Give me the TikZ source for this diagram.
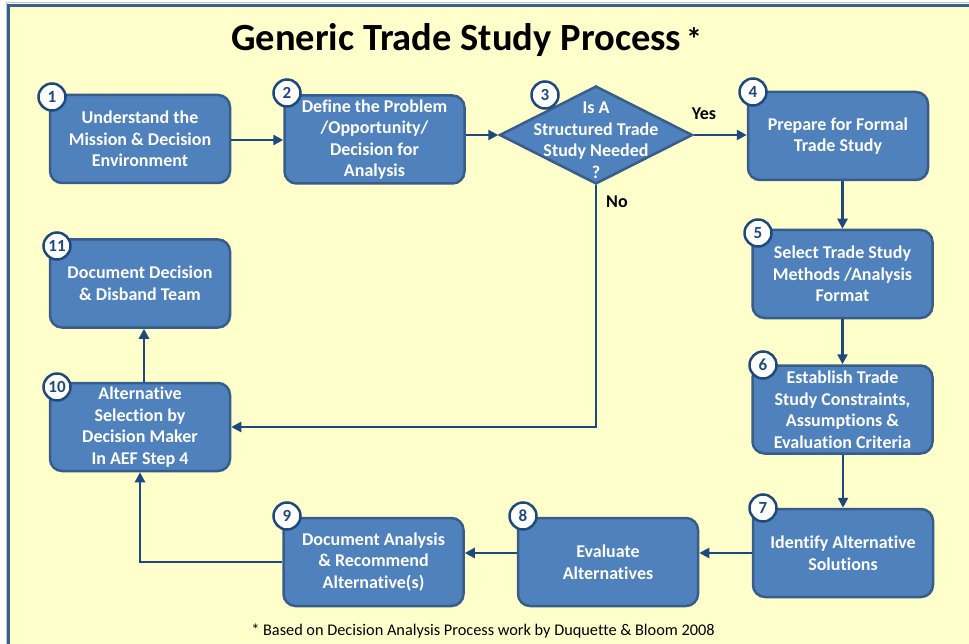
\documentclass[tikz,border=0pt]{standalone}
\usepackage{fontspec}
\setmainfont[Ligatures=NoCommon]{Carlito}
\usepackage{xcolor}
\usetikzlibrary{arrows.meta,shapes.geometric}

\definecolor{boxfill}{HTML}{4F81BD}
\definecolor{boxline}{HTML}{385D8A}
\definecolor{flowblue}{HTML}{1F497D}
\definecolor{paper}{HTML}{FFFFCC}
\definecolor{frameblue}{HTML}{3A5F8B}

\begin{document}
\begin{tikzpicture}[x=1pt,y=-1pt,
    stepbox/.style={draw=boxline,fill=boxfill,line width=2.5pt,rounded corners=12pt,
        minimum width=180pt,minimum height=88pt,inner sep=2pt,align=center,
        text=white,font=\bfseries\fontsize{18}{21.5}\selectfont},
    numcirc/.style={circle,draw=flowblue,fill=white,line width=2.5pt,minimum size=27pt,
        inner sep=0pt,text=flowblue,font=\bfseries\fontsize{17}{18}\selectfont},
    flow/.style={draw=flowblue,line width=2.5pt,-{Triangle[length=10pt,width=10pt]}},
    answer/.style={font=\bfseries\fontsize{18}{20}\selectfont}]

    \useasboundingbox (0,0) rectangle (969,644);
    \clip (0,0) rectangle (969,644);
    \fill[white] (0,0) rectangle (969,644);
    \draw[frameblue!35,line width=1pt] (6,3) rectangle (990,670);
    \draw[frameblue,fill=paper,line width=3pt] (8.5,6) rectangle (990,670);

    \node[anchor=west,inner sep=0pt,font=\bfseries\fontsize{38.5}{42}\selectfont] (title) at (231,40)
        {Generic Trade Study Process\kern5pt{\fontsize{32}{32}\selectfont*}};

    % steps
    \node[stepbox] (b1) at (140,139) {Understand the\\Mission \& Decision\\Environment};
    \node[stepbox] (b2) at (374.5,139.5) {Define the Problem\\/Opportunity/\\Decision for\\Analysis};
    \node[diamond,draw=boxline,fill=boxfill,line width=2.5pt,inner sep=0pt,
        minimum width=193pt,minimum height=98pt] (d3) at (596,135) {};
    \node[align=center,text=white,font=\bfseries\fontsize{18}{21.5}\selectfont] (t3) at (596,140)
        {Is A\\Structured Trade\\Study Needed\\?};
    \node[stepbox] (b4) at (838,136) {Prepare for Formal\\Trade Study};
    \node[stepbox] (b5) at (842.5,274) {Select Trade Study\\Methods /Analysis\\Format};
    \node[stepbox] (b6) at (842.5,409.5) {Establish Trade\\Study Constraints,\\Assumptions \&\\Evaluation Criteria};
    \node[stepbox] (b7) at (843,553) {Identify Alternative\\Solutions};
    \node[stepbox] (b8) at (608,562) {Evaluate\\Alternatives};
    \node[stepbox] (b9) at (373.5,562) {Document Analysis\\\& Recommend\\Alternative(s)};
    \node[stepbox] (b10) at (140,427) {Alternative\\Selection by\\Decision Maker\\In AEF Step 4};
    \node[stepbox] (b11) at (140,283.5) {Document Decision\\\& Disband Team};

    % connectors
    \draw[flow] (b1.east |- 0,140) -- (b2.west |- 0,140);
    \draw[flow] (b2.east |- d3.west) -- (d3.west);
    \draw[flow] (d3.east) -- (b4.west |- d3.east);
    \draw[flow] (b4.south -| b5.north) -- (b5.north);
    \draw[flow] (b5) -- (b6);
    \draw[flow] (b6.south -| b7.north) -- (b7.north);
    \draw[flow] (b7.west) -- (b8.east |- b7.west);
    \draw[flow] (b8.west |- b7.west) -- (b9.east |- b7.west);
    \draw[flow] (b9.west) -| (b10.south);
    \draw[flow] ([xshift=4pt]b10.north) -- ([xshift=4pt]b11.south);
    \draw[flow] (d3.south) |- (b10.east);

    \node[answer] (yes) at (704,114) {Yes};
    \node[answer] (no) at (617,202) {No};

    % step numbers
    \node[numcirc] (n1) at (52,97) {1};
    \node[numcirc] (n2) at (287,93) {2};
    \node[numcirc] (n3) at (545,95) {3};
    \node[numcirc] (n4) at (753,92) {4};
    \node[numcirc] (n5) at (758,233) {5};
    \node[numcirc] (n6) at (763,365) {6};
    \node[numcirc] (n7) at (763,508) {7};
    \node[numcirc] (n8) at (523,516) {8};
    \node[numcirc] (n9) at (287,516) {9};
    \node[numcirc] (n10) at (57,387) {10};
    \node[numcirc] (n11) at (57,246) {11};

    \node[font=\fontsize{16.3}{18}\selectfont] (note) at (483,631)
        {* Based on Decision Analysis Process work by Duquette \& Bloom 2008};
\end{tikzpicture}
\end{document}
